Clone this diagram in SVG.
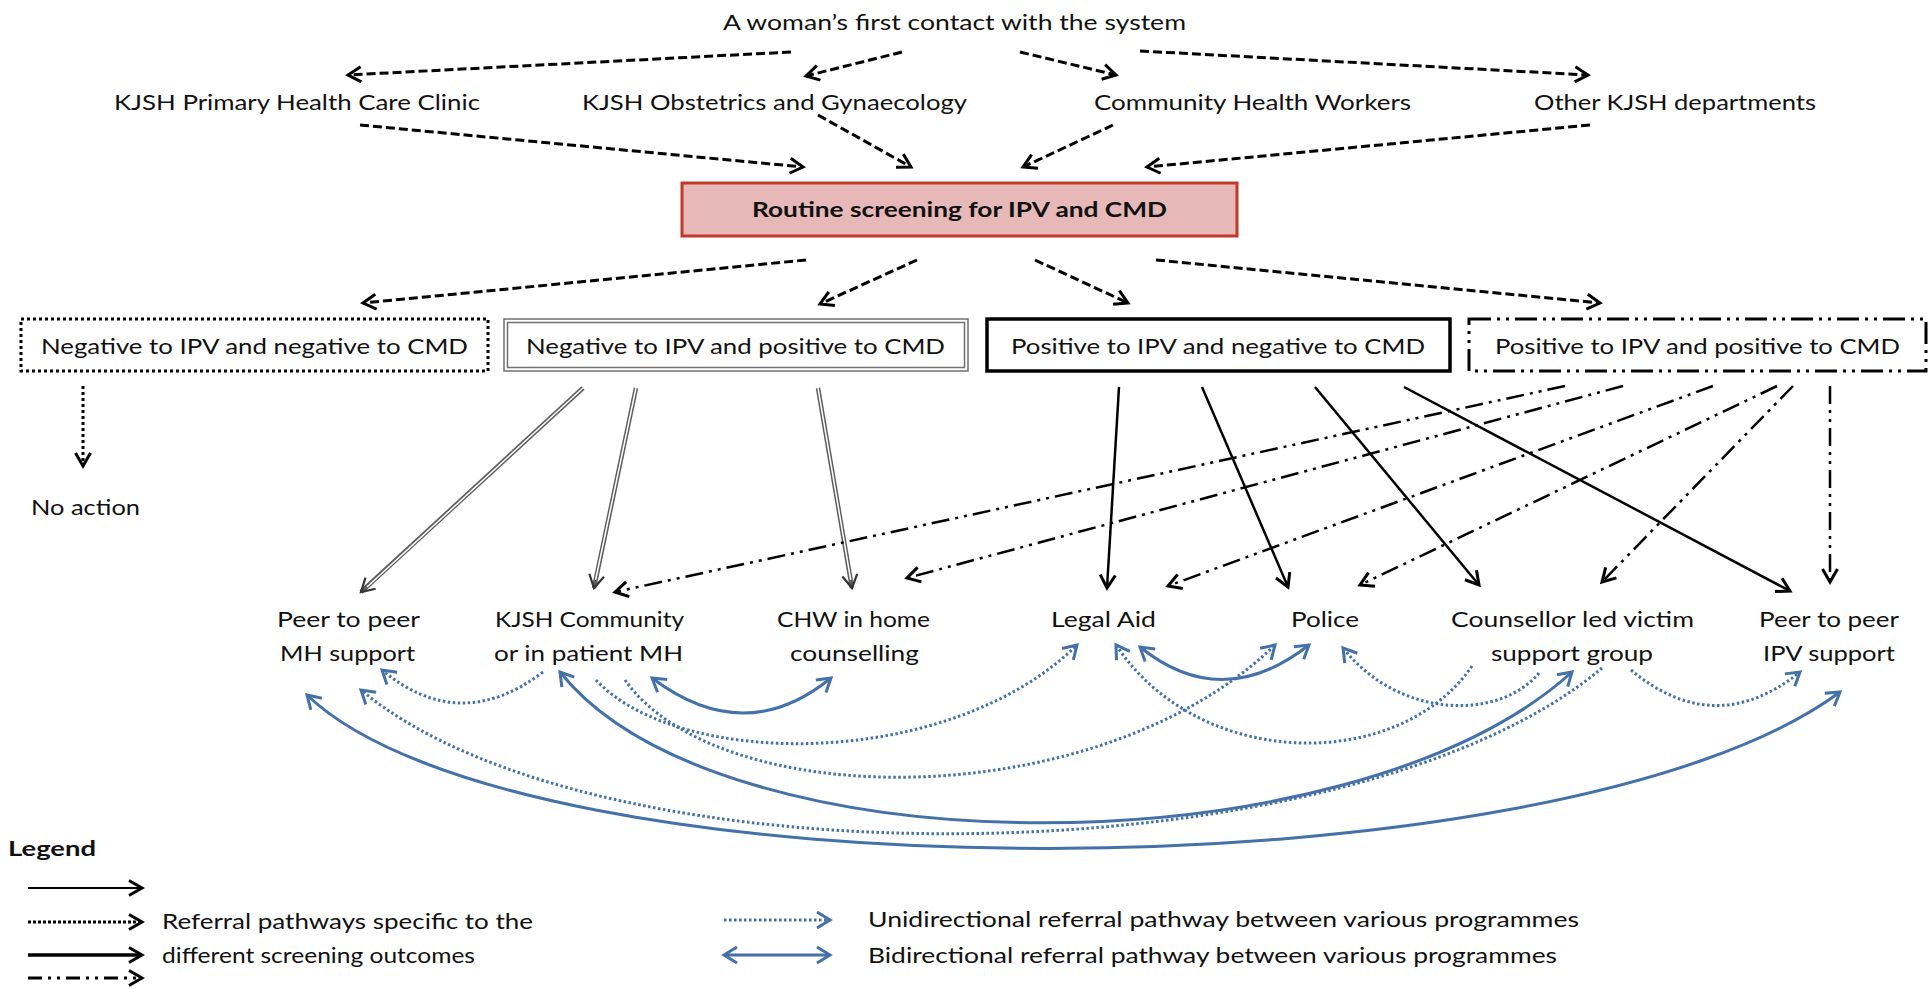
<svg xmlns="http://www.w3.org/2000/svg" width="1930" height="989" viewBox="0 0 1930 989">
<style>
  text { font-family: Lato, "Liberation Sans", "DejaVu Sans", sans-serif; font-size: 21px; fill: #111; }
  .b { font-weight: bold; }
  .dash { fill: none; stroke: #000; stroke-width: 3; stroke-dasharray: 9 4; marker-end: url(#ah); }
  .dot { fill: none; stroke: #000; stroke-width: 3; stroke-dasharray: 3 3; }
  .solid { fill: none; stroke: #000; stroke-width: 2.5; marker-end: url(#ah); }
  .dd { fill: none; stroke: #000; stroke-width: 2.5; stroke-dasharray: 18 6 3 6 3 6; marker-end: url(#ah); }
  .dblo { fill: none; stroke: #5e5e5e; stroke-width: 4.5; marker-end: url(#ahg); }
  .dbli { fill: none; stroke: #fff; stroke-width: 1.5; }
  .bs { fill: none; stroke: #4472a8; stroke-width: 3; marker-start: url(#ahbs); marker-end: url(#ahb); }
  .bd { fill: none; stroke: #4472a8; stroke-width: 3; stroke-dasharray: 2.5 2.5; marker-end: url(#ahb); }
  .box { fill: #fff; }
</style>
<defs>
  <marker id="ah" markerUnits="userSpaceOnUse" markerWidth="24" markerHeight="24" viewBox="-18 -12 24 24" refX="0" refY="0" orient="auto">
    <path d="M-13,-7.5 L0,0 L-13,7.5" fill="none" stroke="#000" stroke-width="3" stroke-linejoin="miter"/>
  </marker>
  <marker id="ahg" markerUnits="userSpaceOnUse" markerWidth="24" markerHeight="24" viewBox="-18 -12 24 24" refX="0" refY="0" orient="auto">
    <path d="M-13,-7.5 L0,0 L-13,7.5" fill="none" stroke="#333" stroke-width="2.2"/>
  </marker>
  <marker id="ahb" markerUnits="userSpaceOnUse" markerWidth="24" markerHeight="24" viewBox="-18 -12 24 24" refX="0" refY="0" orient="auto">
    <path d="M-13,-8 L0,0 L-13,8" fill="none" stroke="#4472a8" stroke-width="3"/>
  </marker>
  <marker id="ahbs" markerUnits="userSpaceOnUse" markerWidth="24" markerHeight="24" viewBox="-18 -12 24 24" refX="0" refY="0" orient="auto-start-reverse">
    <path d="M-13,-8 L0,0 L-13,8" fill="none" stroke="#4472a8" stroke-width="3"/>
  </marker>
</defs>
<rect width="1930" height="989" fill="#fff"/>

<g id="connectors">
  <!-- first contact to entry points -->
  <path class="dash" d="M791,52 L348,75"/>
  <path class="dash" d="M902,52 L806,76"/>
  <path class="dash" d="M1020,52 L1116,75"/>
  <path class="dash" d="M1140,51 L1588,75"/>
  <!-- entry points to screening -->
  <path class="dash" d="M360,125 L803,167"/>
  <path class="dash" d="M818,115 L911,167"/>
  <path class="dash" d="M1113,125 L1023,167"/>
  <path class="dash" d="M1590,125 L1147,167"/>
  <!-- screening to outcomes -->
  <path class="dash" d="M806,260 L363,303"/>
  <path class="dash" d="M917,260 L820,304"/>
  <path class="dash" d="M1035,260 L1128,303"/>
  <path class="dash" d="M1156,260 L1600,303"/>
  <!-- negative/negative to no action -->
  <path class="dot" d="M83,386 L83,466" marker-end="url(#ah)"/>
  <!-- negative IPV positive CMD (double line) -->
  <path class="dblo" d="M583,388 L361,592"/>
  <path class="dbli" d="M583,388 L367,587"/>
  <path class="dblo" d="M636,388 L594,588"/>
  <path class="dbli" d="M636,388 L595.6,580"/>
  <path class="dblo" d="M818,388 L852,588"/>
  <path class="dbli" d="M818,388 L850.7,580"/>
  <!-- positive IPV negative CMD (solid) -->
  <path class="solid" d="M1119,387 L1107,588"/>
  <path class="solid" d="M1202,387 L1288,587"/>
  <path class="solid" d="M1315,387 L1479,585"/>
  <path class="solid" d="M1404,387 L1790,591"/>
  <!-- positive IPV positive CMD (dash-dot-dot) -->
  <path class="dd" d="M1565,386 L615,592"/>
  <path class="dd" d="M1623,386 L907,578"/>
  <path class="dd" d="M1713,386 L1168,586"/>
  <path class="dd" d="M1777,386 L1360,585"/>
  <path class="dd" d="M1793,386 L1602,582"/>
  <path class="dd" d="M1830,386 L1830,582"/>
  <!-- bidirectional programme referrals -->
  <path class="bs" d="M652,678 Q745,748 831,678"/>
  <path class="bs" d="M1140,647 Q1222,713 1309,645"/>
  <path class="bs" d="M560,672 C720,873 1350,873 1572,672"/>
  <path class="bs" d="M307,695 C520,900 1560,900 1840,692"/>
  <!-- unidirectional programme referrals -->
  <path class="bd" d="M543,672 Q460,735 382,670"/>
  <path class="bd" d="M596,680 C680,770 950,770 1077,645"/>
  <path class="bd" d="M625,680 C720,815 1100,815 1275,645"/>
  <path class="bd" d="M1472,666 C1400,772 1200,772 1116,645"/>
  <path class="bd" d="M1539,673 C1500,720 1400,720 1343,648"/>
  <path class="bd" d="M1631,670 Q1715,740 1800,672"/>
  <path class="bd" d="M1602,668 C1350,880 600,890 361,690"/>
</g>

<g id="n-first"><text x="723" y="30" textLength="463" lengthAdjust="spacingAndGlyphs">A woman’s first contact with the system</text></g>
<g id="n-phc"><text x="114" y="110" textLength="366" lengthAdjust="spacingAndGlyphs">KJSH Primary  Health Care Clinic</text></g>
<g id="n-obg"><text x="582" y="110" textLength="385" lengthAdjust="spacingAndGlyphs">KJSH Obstetrics and Gynaecology</text></g>
<g id="n-chw"><text x="1094" y="110" textLength="317" lengthAdjust="spacingAndGlyphs">Community  Health Workers</text></g>
<g id="n-other"><text x="1534" y="110" textLength="282" lengthAdjust="spacingAndGlyphs">Other KJSH departments</text></g>

<g id="n-screening">
  <rect x="682" y="183" width="555" height="53" fill="#e6b8b7" stroke="#c0392b" stroke-width="3"/>
  <text class="b" x="752" y="217" textLength="415" lengthAdjust="spacingAndGlyphs">Routine screening for IPV and CMD</text>
</g>

<g id="n-negneg">
  <rect class="box" x="21" y="319" width="467" height="52" stroke="#000" stroke-width="3" stroke-dasharray="3 3"/>
  <text x="41" y="354" textLength="427" lengthAdjust="spacingAndGlyphs">Negative to IPV and negative to CMD</text>
</g>
<g id="n-negpos">
  <rect class="box" x="504" y="319" width="464" height="52" stroke="#707070" stroke-width="1.5"/>
  <rect x="507.5" y="322.5" width="457" height="45" fill="none" stroke="#707070" stroke-width="1.5"/>
  <text x="526" y="354" textLength="419" lengthAdjust="spacingAndGlyphs">Negative to IPV and positive to CMD</text>
</g>
<g id="n-posneg">
  <rect class="box" x="987" y="319" width="463" height="52" stroke="#000" stroke-width="3.5"/>
  <text x="1011" y="354" textLength="414" lengthAdjust="spacingAndGlyphs">Positive to IPV and negative to CMD</text>
</g>
<g id="n-pospos">
  <rect class="box" x="1469" y="319" width="457" height="52" stroke="#000" stroke-width="3" stroke-dasharray="22 6 3 6 3 6"/>
  <text x="1495" y="354" textLength="405" lengthAdjust="spacingAndGlyphs">Positive to IPV and positive to CMD</text>
</g>

<g id="n-noaction"><text x="31" y="515" textLength="109" lengthAdjust="spacingAndGlyphs">No action</text></g>

<g id="n-peermh">
  <text x="277" y="627" textLength="143" lengthAdjust="spacingAndGlyphs">Peer to peer</text>
  <text x="280" y="661" textLength="135" lengthAdjust="spacingAndGlyphs">MH support</text>
</g>
<g id="n-kjshmh">
  <text x="495" y="627" textLength="189" lengthAdjust="spacingAndGlyphs">KJSH Community</text>
  <text x="494" y="661" textLength="189" lengthAdjust="spacingAndGlyphs">or in patient MH</text>
</g>
<g id="n-chwhome">
  <text x="777" y="627" textLength="153" lengthAdjust="spacingAndGlyphs">CHW in home</text>
  <text x="790" y="661" textLength="129" lengthAdjust="spacingAndGlyphs">counselling</text>
</g>
<g id="n-legal"><text x="1051" y="627" textLength="105" lengthAdjust="spacingAndGlyphs">Legal Aid</text></g>
<g id="n-police"><text x="1291" y="627" textLength="68" lengthAdjust="spacingAndGlyphs">Police</text></g>
<g id="n-counsellor">
  <text x="1451" y="627" textLength="243" lengthAdjust="spacingAndGlyphs">Counsellor led victim</text>
  <text x="1491" y="661" textLength="162" lengthAdjust="spacingAndGlyphs">support group</text>
</g>
<g id="n-peeripv">
  <text x="1759" y="627" textLength="140" lengthAdjust="spacingAndGlyphs">Peer to peer</text>
  <text x="1763" y="661" textLength="132" lengthAdjust="spacingAndGlyphs">IPV support</text>
</g>

<g id="legend">
  <text class="b" x="8" y="856" textLength="88" lengthAdjust="spacingAndGlyphs">Legend</text>
  <path d="M28,888 L142,888" fill="none" stroke="#000" stroke-width="2" marker-end="url(#ah)"/>
  <path d="M28,922 L142,922" fill="none" stroke="#000" stroke-width="3" stroke-dasharray="3 2" marker-end="url(#ah)"/>
  <path d="M28,955 L142,955" fill="none" stroke="#000" stroke-width="3.5" marker-end="url(#ah)"/>
  <path d="M28,978 L142,978" fill="none" stroke="#000" stroke-width="3" stroke-dasharray="14 6 3 6 3 6" marker-end="url(#ah)"/>
  <text x="162" y="929" textLength="371" lengthAdjust="spacingAndGlyphs">Referral pathways specific to the</text>
  <text x="162" y="963" textLength="313" lengthAdjust="spacingAndGlyphs">different screening outcomes</text>
  <path class="bd" d="M724,920 L830,920"/>
  <path class="bs" d="M724,955 L830,955"/>
  <text x="868" y="927" textLength="711" lengthAdjust="spacingAndGlyphs">Unidirectional referral pathway between various programmes</text>
  <text x="868" y="963" textLength="689" lengthAdjust="spacingAndGlyphs">Bidirectional referral pathway between various programmes</text>
</g>
</svg>
